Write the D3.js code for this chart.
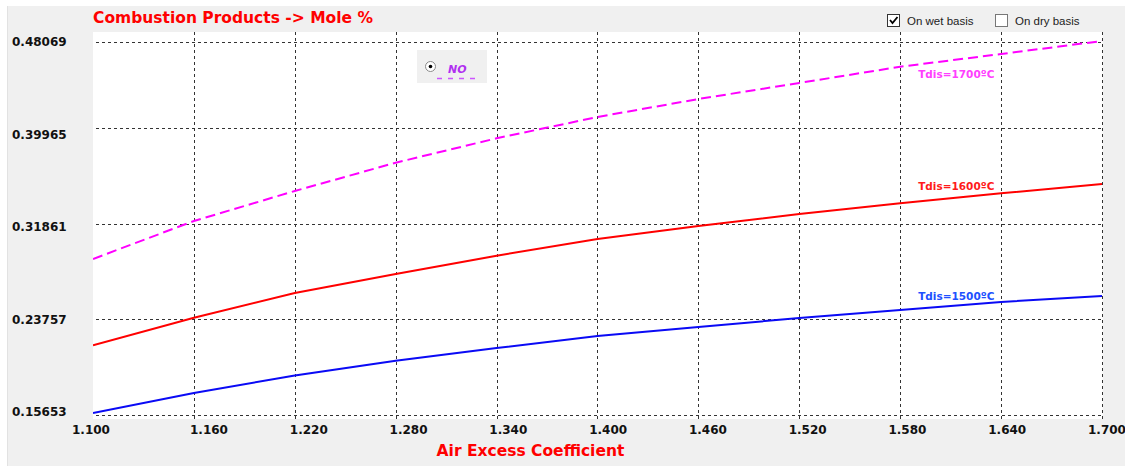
<!DOCTYPE html>
<html>
<head>
<meta charset="utf-8">
<script src="https://cdn.jsdelivr.net/npm/d3@7/dist/d3.min.js"></script>
<style>
  body { margin: 0; background: #ffffff; }
  svg { display: block; }
</style>
</head>
<body>
<div id="chart"></div>
<script>
// values
const airExcess = [1.10, 1.16, 1.22, 1.28, 1.34, 1.40, 1.46, 1.52, 1.58, 1.64, 1.70];
const no1500 = [0.15823, 0.17517, 0.19000, 0.20255, 0.21331, 0.22348, 0.23111, 0.23874, 0.24552, 0.25230, 0.25738];
const no1600 = [0.21560, 0.23899, 0.25992, 0.27602, 0.29153, 0.30568, 0.31670, 0.32687, 0.33594, 0.34442, 0.35230];
const no1700 = [0.28874, 0.32095, 0.34636, 0.37035, 0.39103, 0.40908, 0.42434, 0.43790, 0.45171, 0.46248, 0.47349];
const xTicks = [1.100, 1.160, 1.220, 1.280, 1.340, 1.400, 1.460, 1.520, 1.580, 1.640, 1.700];
const yTicks = [0.15653, 0.23757, 0.31861, 0.39965, 0.48069];
const seriesNames = ["Tdis=1500ºC", "Tdis=1600ºC", "Tdis=1700ºC"];

const W = 1125, H = 466;
const plot = { left: 93, right: 1102.7, top: 32, bottom: 419 };

const svg = d3.select("#chart").append("svg")
  .attr("width", W)
  .attr("height", H);

// grey panel
svg.append("rect")
  .attr("x", 7).attr("y", 6)
  .attr("width", W - 7).attr("height", H - 6)
  .attr("fill", "#f0f0f0");
svg.append("line")
  .attr("x1", 7.5).attr("x2", 7.5).attr("y1", 6).attr("y2", H)
  .attr("stroke", "#e2e2e2");

// plot area
svg.append("rect")
  .attr("x", plot.left).attr("y", plot.top)
  .attr("width", plot.right - plot.left).attr("height", plot.bottom - plot.top)
  .attr("fill", "#ffffff");

var x = d3.scaleLinear().domain([1.1, 1.7]).range([93, 1102]);
var y = d3.scaleLinear().domain([0.15653, 0.48069]).range([415, 32.5]);
// the tick labels are spaced a bit differently from the grid
var xLabel = d3.scaleLinear().domain([1.16, 1.70]).range([209, 1107]);
var yLabel = d3.scaleLinear().domain([0.15653, 0.48069]).range([412, 42]);

// grid
var grid = svg.append("g")
  .attr("stroke", "#333333")
  .attr("stroke-width", 1)
  .attr("stroke-dasharray", "3,3")
  .attr("shape-rendering", "crispEdges");
grid.selectAll(".vgrid")
  .data(xTicks.slice(1))
  .enter()
  .append("line")
  .attr("class", "vgrid")
  .attr("x1", d => Math.round(x(d)) + 0.5)
  .attr("x2", d => Math.round(x(d)) + 0.5)
  .attr("y1", plot.top)
  .attr("y2", plot.bottom);
grid.selectAll(".hgrid")
  .data(yTicks)
  .enter()
  .append("line")
  .attr("class", "hgrid")
  .attr("x1", 96)
  .attr("x2", plot.right)
  .attr("y1", d => Math.round(Math.max(y(d), plot.top + 9.5)) + 0.5)
  .attr("y2", d => Math.round(Math.max(y(d), plot.top + 9.5)) + 0.5);

// tick labels
svg.selectAll(".ylab")
  .data(yTicks)
  .enter()
  .append("text")
  .attr("class", "ylab")
  .attr("x", 12)
  .attr("y", d => yLabel(d))
  .attr("dy", "0.36em")
  .style("font-family", "DejaVu Sans, Verdana, sans-serif")
  .style("font-weight", "bold")
  .style("font-size", "12px")
  .style("fill", "#111111")
  .text(d => d.toFixed(5));
svg.selectAll(".xlab")
  .data(xTicks)
  .enter()
  .append("text")
  .attr("class", "xlab")
  .attr("text-anchor", "middle")
  .attr("x", (d, i) => i === 0 ? x(d) - 2 : xLabel(d))
  .attr("y", 433.5)
  .style("font-family", "DejaVu Sans, Verdana, sans-serif")
  .style("font-weight", "bold")
  .style("font-size", "12px")
  .style("fill", "#111111")
  .text(d => d.toFixed(3));

// curves
var clip = svg.append("clipPath").attr("id", "plotclip")
  .append("rect")
  .attr("x", plot.left).attr("y", plot.top)
  .attr("width", plot.right - plot.left).attr("height", plot.bottom - plot.top);

var series = [
  { values: no1500, color: "#0a0af5", dash: null, label: "#2050ff", labelValue: 0.25679 },
  { values: no1600, color: "#ff0000", dash: null, label: "#ff1a1a", labelValue: 0.35001 },
  { values: no1700, color: "#ff00ff", dash: "10,5", label: "#ff40ff", labelValue: 0.44552 },
];
var line = d3.line()
  .x((d, i) => x(airExcess[i]))
  .y(d => y(d));

var lines = svg.append("g").attr("clip-path", "url(#plotclip)");
series.forEach(function (s) {
  lines.append("path")
    .datum(s.values)
    .attr("d", line)
    .attr("fill", "none")
    .attr("stroke", s.color)
    .attr("stroke-width", 2)
    .attr("stroke-dasharray", s.dash);
});
series.forEach(function (s, i) {
  svg.append("text")
    .attr("x", x(1.58) + 18)
    .attr("y", y(s.labelValue))
    .attr("dy", "0.36em")
    .style("font-family", "DejaVu Sans, Verdana, sans-serif")
    .style("font-weight", "bold")
    .style("font-size", "10.5px")
    .style("fill", s.label)
    .text(seriesNames[i]);
});

// legend
var legend = svg.append("g");
legend.append("rect")
  .attr("x", 417).attr("y", 50)
  .attr("width", 70).attr("height", 33)
  .attr("fill", "#f0f0f0");
legend.append("circle")
  .attr("cx", 430.5).attr("cy", 66.5).attr("r", 5)
  .attr("fill", "#ffffff")
  .attr("stroke", "#8a8a8a");
legend.append("circle")
  .attr("cx", 430.5).attr("cy", 66.5).attr("r", 1.8)
  .attr("fill", "#000000");
legend.append("text")
  .attr("x", 448).attr("y", 73)
  .style("font-family", "DejaVu Sans, Verdana, sans-serif")
  .style("font-weight", "bold")
  .style("font-style", "italic")
  .style("font-size", "11px")
  .style("fill", "#b030f0")
  .text("NO");
legend.append("line")
  .attr("x1", 437).attr("x2", 481)
  .attr("y1", 78.5).attr("y2", 78.5)
  .attr("stroke", "#cc55ff")
  .attr("stroke-width", 1.5)
  .attr("stroke-dasharray", "5,6");

// check boxes
function checkbox(px, label, checked) {
  svg.append("rect")
    .attr("x", px + 0.5).attr("y", 14.5)
    .attr("width", 12).attr("height", 12)
    .attr("fill", "#ffffff")
    .attr("stroke", checked ? "#333333" : "#777777");
  if (checked) {
    svg.append("path")
      .attr("d", "M" + (px + 3) + ",20 l2.5,3 l5,-6")
      .attr("fill", "none")
      .attr("stroke", "#000000")
      .attr("stroke-width", 1.8);
  }
  svg.append("text")
    .attr("x", px + 20)
    .attr("y", 24.5)
    .style("font-family", "Liberation Sans, Arial, sans-serif")
    .style("font-size", "11.5px")
    .style("fill", "#222222")
    .text(label);
}
checkbox(887, "On wet basis", true);
checkbox(995, "On dry basis", false);

// titles
svg.append("text")
  .attr("x", 93)
  .attr("y", 22.5)
  .style("font-family", "DejaVu Sans, Verdana, sans-serif")
  .style("font-weight", "bold")
  .style("font-size", "15.5px")
  .style("fill", "#ff0000")
  .text("Combustion Products -> Mole %");
svg.append("text")
  .attr("text-anchor", "middle")
  .attr("x", 530.5)
  .attr("y", 456)
  .style("font-family", "DejaVu Sans, Verdana, sans-serif")
  .style("font-weight", "bold")
  .style("font-size", "15.5px")
  .style("fill", "#ff0000")
  .text("Air Excess Coefficient");
</script>
</body>
</html>
